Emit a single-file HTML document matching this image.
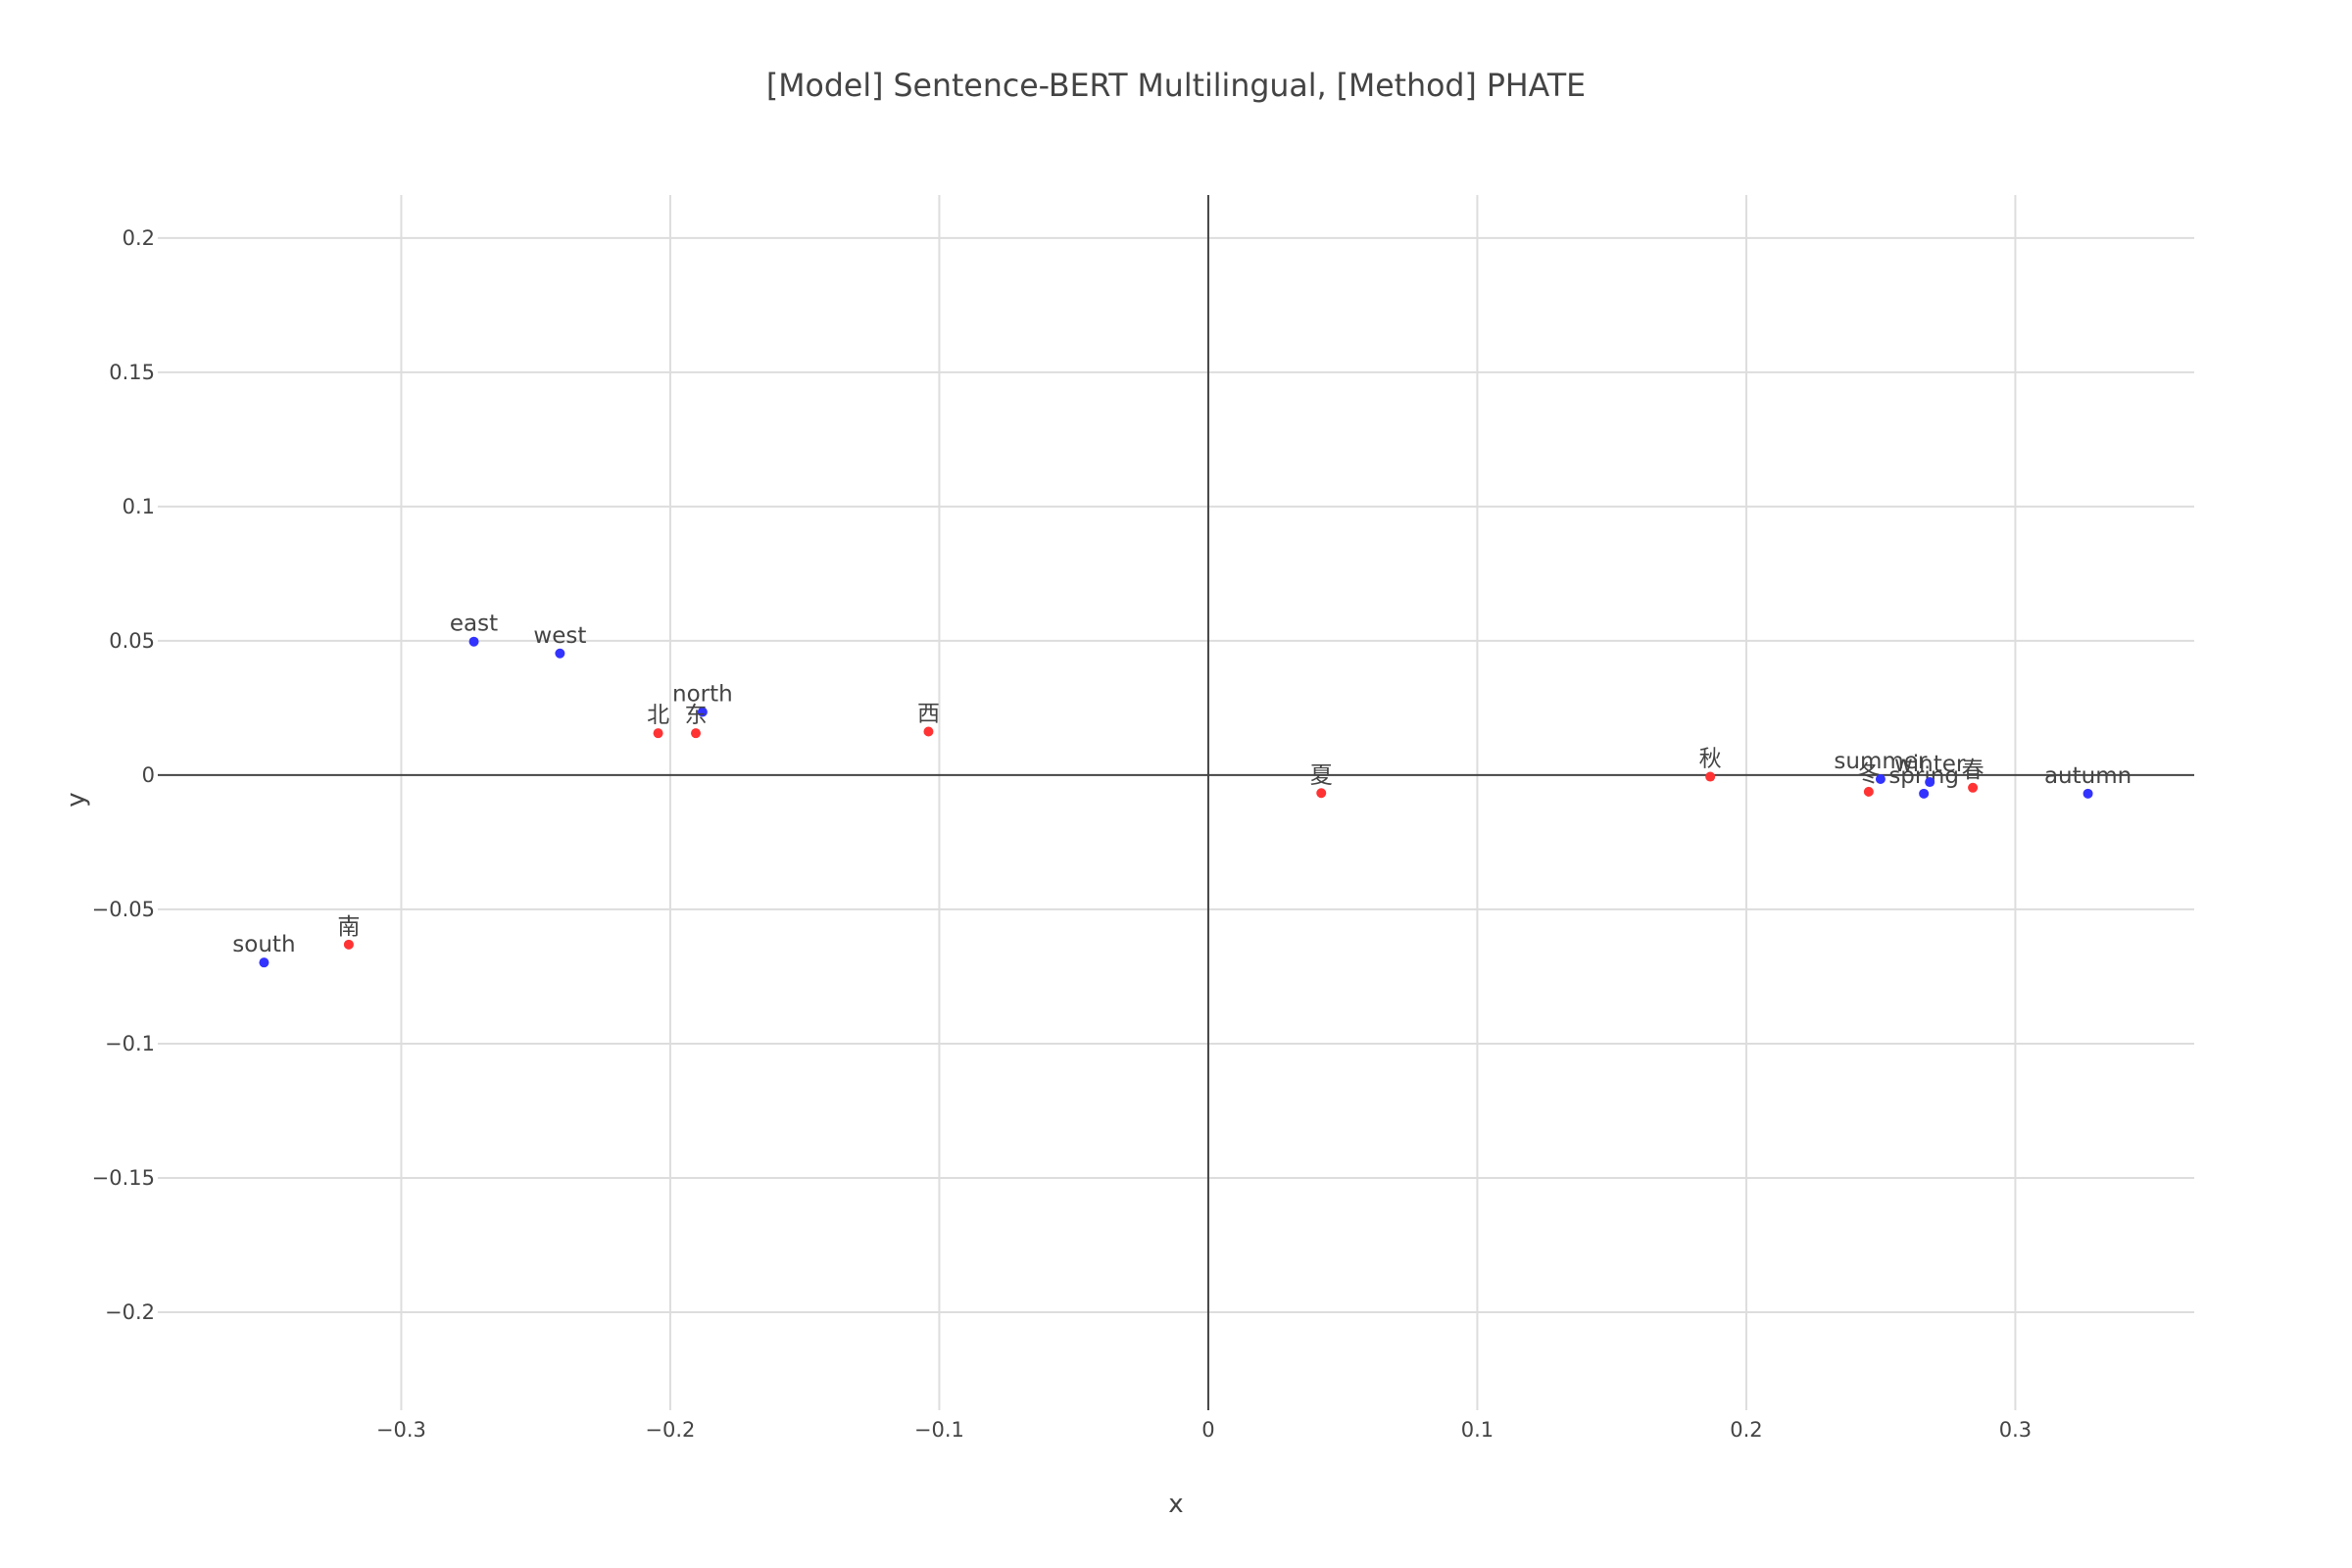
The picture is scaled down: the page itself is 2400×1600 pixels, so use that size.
<!DOCTYPE html>
<html><head><meta charset="utf-8">
<style>
html,body{margin:0;padding:0;background:#fff;}
svg{display:block;font-family:"DejaVu Sans","Liberation Sans","Noto Sans CJK SC",sans-serif;}
</style></head>
<body>
<svg id="chart" width="2400" height="1600" viewBox="0 0 2400 1600" xmlns="http://www.w3.org/2000/svg">
<rect width="2400" height="1600" fill="#fff"/>
<text x="1200" y="98" text-anchor="middle" font-size="31.6" fill="#444">[Model] Sentence-BERT Multilingual, [Method] PHATE</text>
<text x="1200" y="1543" text-anchor="middle" font-size="26" fill="#444">x</text>
<text x="0" y="0" transform="translate(86,816) rotate(-90)" text-anchor="middle" font-size="26" fill="#444">y</text>
<g id="grid"></g><g id="zero"></g><g id="ticks"></g><g id="marks"></g>
</svg>
<script>
const labels = ["east","west","north","北","东","西","south","南","夏","秋","冬","summer","spring","winter","春","autumn"];
const xValues = [-0.273,-0.241,-0.188,-0.2045,-0.1905,-0.104,-0.351,-0.3195,0.042,0.1866,0.2455,0.2499,0.266,0.2682,0.2842,0.327];
const yValues = [0.0497,0.0453,0.0235,0.0156,0.0156,0.0162,-0.0698,-0.0631,-0.0067,-0.0006,-0.0062,-0.0015,-0.0069,-0.0026,-0.0047,-0.0069];
const colors = ["blue","blue","blue","red","red","red","blue","red","red","red","red","blue","blue","blue","red","blue"];
const xTicks = [-0.3,-0.2,-0.1,0,0.1,0.2,0.3];
const xTickLabels = ["−0.3","−0.2","−0.1","0","0.1","0.2","0.3"];
const yTicks = [0.2,0.15,0.1,0.05,0,-0.05,-0.1,-0.15,-0.2];
const yTickLabels = ["0.2","0.15","0.1","0.05","0","−0.05","−0.1","−0.15","−0.2"];

const L=161,R=2239,T=199,B=1439;
const X0=-0.3905,X1=0.3665,Y0=-0.2365,Y1=0.216;
function sx(v){return L+(v-X0)/(X1-X0)*(R-L);}
function sy(v){return B-(v-Y0)/(Y1-Y0)*(B-T);}
const NS="http://www.w3.org/2000/svg";
function mk(tag,attrs,parent){const e=document.createElementNS(NS,tag);for(const k in attrs)e.setAttribute(k,attrs[k]);document.getElementById(parent).appendChild(e);return e;}

xTicks.forEach((t,i)=>{
  if(t!==0){const g=mk('line',{x1:sx(t),x2:sx(t),y1:T,y2:B,stroke:'#ddd','stroke-width':2},'grid');
  
  }
  const lb=mk('text',{x:sx(t),y:B+27,'text-anchor':'middle','font-size':21,fill:'#444'},'ticks');
  lb.textContent=xTickLabels[i];
  
  
});
yTicks.forEach((t,i)=>{
  if(t!==0){const g=mk('line',{x1:L,x2:R,y1:sy(t),y2:sy(t),stroke:'#ddd','stroke-width':2},'grid');
  
  }
  const lb=mk('text',{x:L-3,y:sy(t)+7,'text-anchor':'end','font-size':21,fill:'#444'},'ticks');
  lb.textContent=yTickLabels[i];
  
  
});
const zx=mk('line',{x1:sx(0),x2:sx(0),y1:T,y2:B,stroke:'#444','stroke-width':2},'zero');


const zy=mk('line',{x1:L,x2:R,y1:sy(0),y2:sy(0),stroke:'#444','stroke-width':2},'zero');



labels.forEach((lab,i)=>{
  const cx=sx(xValues[i]),cy=sy(yValues[i]);
  const c=mk('circle',{cx:cx,cy:cy,r:5,fill:colors[i]==='red'?'#ff3333':'#3333ff'},'marks');
  
  
  const t=mk('text',{x:cx,y:cy-11,'text-anchor':'middle','font-size':23,fill:'#444'},'marks');
  t.textContent=lab;
  
  
});
</script>
</body></html>
